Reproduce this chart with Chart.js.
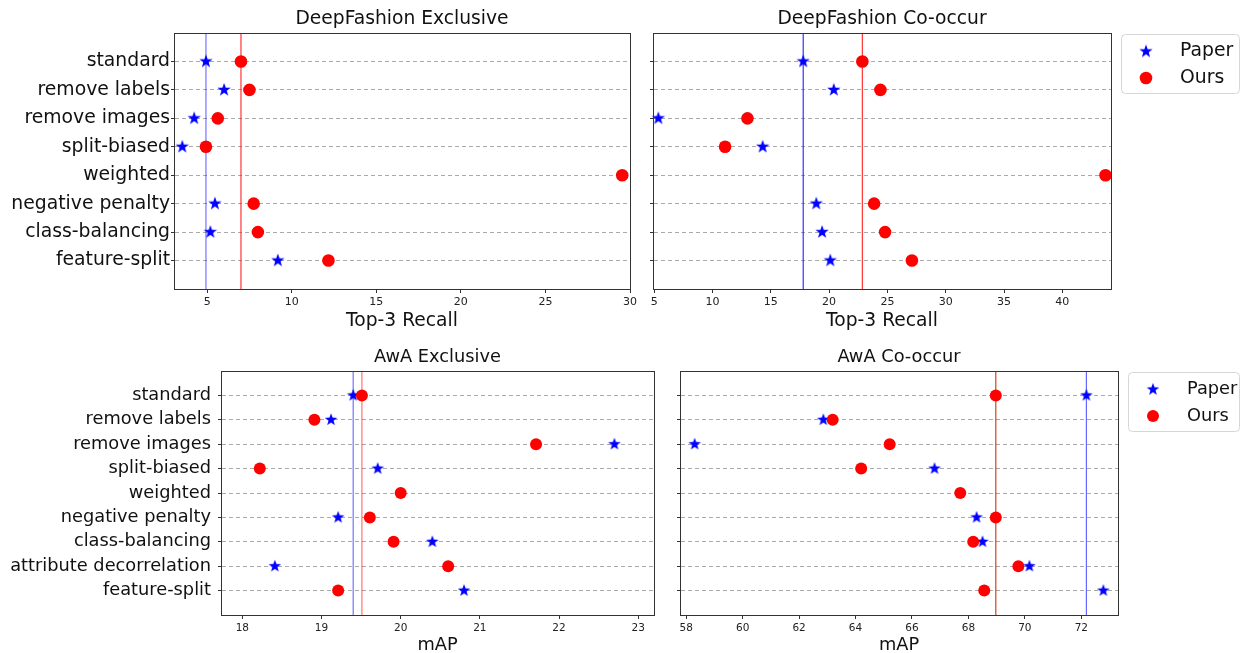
<!DOCTYPE html>
<html>
<head>
<meta charset="utf-8">
<script src="https://cdn.jsdelivr.net/npm/chart.js@4.4.0/dist/chart.umd.min.js"></script>
<style>
  body { margin: 0; background: #fff; width: 1240px; height: 653px; overflow: hidden; position: relative; }
  canvas { position: absolute; }
</style>
</head>
<body>
<canvas id="dfExcl" width="640" height="335" style="left:0px;top:0px"></canvas>
<canvas id="dfCo" width="600" height="335" style="left:640px;top:0px"></canvas>
<canvas id="awaExcl" width="660" height="320" style="left:0px;top:340px"></canvas>
<canvas id="awaCo" width="580" height="320" style="left:660px;top:340px"></canvas>
<script>
// categories
var dfCategories = ['standard', 'remove labels', 'remove images', 'split-biased', 'weighted',
                    'negative penalty', 'class-balancing', 'feature-split'];
var awaCategories = ['standard', 'remove labels', 'remove images', 'split-biased', 'weighted',
                     'negative penalty', 'class-balancing', 'attribute decorrelation', 'feature-split'];

// values (null = not reported)
var dfExclPaper = [4.93, 6.0, 4.23, 3.53, null, 5.46, 5.19, 9.18];
var dfExclOurs  = [7.0, 7.5, 5.63, 4.93, 29.54, 7.75, 8.0, 12.17];
var dfCoPaper   = [17.78, 20.4, 5.36, 14.3, null, 18.9, 19.4, 20.1];
var dfCoOurs    = [22.85, 24.4, 13.0, 11.08, 43.7, 23.86, 24.8, 27.1];

var awaExclPaper = [19.40, 19.12, 22.70, 19.71, null, 19.21, 20.40, 18.41, 20.80];
var awaExclOurs  = [19.51, 18.91, 21.71, 18.22, 20.0, 19.61, 19.91, 20.6, 19.21];
var awaCoPaper   = [72.18, 62.86, 58.30, 66.8, null, 68.29, 68.50, 70.16, 72.78];
var awaCoOurs    = [68.97, 63.19, 65.21, 64.2, 67.71, 68.97, 68.17, 69.77, 68.56];

var FONT = "'DejaVu Sans', sans-serif";
var TEXT = '#111';

function makeStar(color, r) {
  var c = document.createElement('canvas');
  var s = Math.ceil(r * 2) + 2;
  c.width = s; c.height = s;
  var g = c.getContext('2d');
  g.fillStyle = color;
  g.beginPath();
  for (var i = 0; i < 10; i++) {
    var rad = i % 2 === 0 ? r : r * 0.4;
    var a = -Math.PI / 2 + i * Math.PI / 5;
    g.lineTo(s / 2 + rad * Math.cos(a), s / 2 + rad * Math.sin(a));
  }
  g.closePath();
  g.fill();
  return c;
}

// frame, title and legend box
var panelDeco = {
  id: 'panelDeco',
  afterDraw: function(chart, args, opts) {
    var ctx = chart.ctx, a = chart.chartArea;
    ctx.save();
    ctx.strokeStyle = '#333';
    ctx.lineWidth = 1;
    ctx.strokeRect(Math.round(a.left) + 0.5, Math.round(a.top) + 0.5,
                   Math.round(a.right - a.left), Math.round(a.bottom - a.top));
    ctx.fillStyle = TEXT;
    ctx.font = opts.titleSize + 'px ' + FONT;
    ctx.textAlign = 'center';
    ctx.textBaseline = 'middle';
    ctx.fillText(opts.title, (a.left + a.right) / 2, a.top - 13.5);

    if (opts.legend) {
      var bx = a.right + 10, by = a.top + 1, bw = chart.width - bx - 1, bh = 59;
      ctx.beginPath();
      ctx.roundRect(bx + 0.5, by + 0.5, bw, bh, 4);
      ctx.fillStyle = '#fff';
      ctx.fill();
      ctx.strokeStyle = '#d6d6d6';
      ctx.stroke();
      var paper = chart.data.datasets[1], ours = chart.data.datasets[0];
      var img = paper.pointStyle;
      ctx.drawImage(img, bx + 25 - img.width / 2, by + 17.5 - img.height / 2);
      ctx.beginPath();
      ctx.arc(bx + 25, by + 44, opts.dot, 0, Math.PI * 2);
      ctx.fillStyle = ours.backgroundColor;
      ctx.fill();
      ctx.fillStyle = TEXT;
      ctx.font = opts.labelSize + 'px ' + FONT;
      ctx.textAlign = 'left';
      ctx.fillText(paper.label, bx + 59, by + 17.5);
      ctx.fillText(ours.label, bx + 59, by + 44);
    }
    ctx.restore();
  }
};

function pts(vals) {
  return vals.map(function(v, i) { return v === null ? null : {x: v, y: i}; })
             .filter(function(p) { return p; });
}

function buildPanel(id, cfg) {
  var n = cfg.categories.length;
  var star = makeStar('#0000ff', cfg.star);
  new Chart(document.getElementById(id), {
    type: 'scatter',
    data: {
      datasets: [
        { label: 'Ours', data: pts(cfg.ours), pointStyle: 'circle', pointRadius: cfg.dot,
          backgroundColor: '#ff0000', borderWidth: 0, order: 0, clip: false },
        { label: 'Paper', data: pts(cfg.paper), pointStyle: star, order: 1, clip: false },
        { data: [{x: cfg.ours[0], y: -1}, {x: cfg.ours[0], y: n}], showLine: true, pointRadius: 0,
          borderColor: cfg.redLine, borderWidth: 1.2, order: 2 },
        { data: [{x: cfg.paper[0], y: -1}, {x: cfg.paper[0], y: n}], showLine: true, pointRadius: 0,
          borderColor: cfg.blueLine, borderWidth: 1.2, order: 3 }
      ]
    },
    options: {
      responsive: false,
      animation: false,
      events: [],
      layout: { padding: { top: cfg.top, right: cfg.right, left: 0, bottom: 0 } },
      plugins: {
        legend: { display: false },
        tooltip: { enabled: false },
        panelDeco: { title: cfg.title, titleSize: cfg.titleSize, legend: cfg.legend,
                     labelSize: cfg.labelSize, dot: cfg.dot }
      },
      scales: {
        x: {
          type: 'linear', min: cfg.xmin, max: cfg.xmax,
          ticks: { stepSize: cfg.step, includeBounds: false, color: '#222', padding: 3,
                   font: { family: FONT, size: cfg.tickSize } },
          grid: { drawOnChartArea: false, tickLength: 4, color: '#333' },
          border: { color: '#333' },
          title: { display: true, text: cfg.xTitle, color: TEXT,
                   font: { family: FONT, size: cfg.titleSize }, padding: { top: 0, bottom: cfg.xTitlePad } },
          afterFit: function(s) { s.height = cfg.xh; }
        },
        y: {
          type: 'linear', reverse: true, min: -1, max: n,
          ticks: {
            stepSize: 1, autoSkip: false, color: TEXT, padding: cfg.labelPad,
            font: { family: FONT, size: cfg.labelSize },
            callback: function(v) {
              var i = Math.round(v);
              return cfg.showLabels && i >= 0 && i < n ? cfg.categories[i] : '';
            }
          },
          grid: {
            tickLength: 3,
            color: function(c) { var v = c.tick ? Math.round(c.tick.value) : -1; return v >= 0 && v < n ? '#aaaaaa' : 'rgba(0,0,0,0)'; },
            tickColor: function(c) { var v = c.tick ? Math.round(c.tick.value) : -1; return v >= 0 && v < n ? '#333' : 'rgba(0,0,0,0)'; },
            borderDash: [4, 3],
            tickBorderDash: []
          },
          border: { color: '#333', dash: [4, 3] },
          afterFit: function(s) { s.width = cfg.yw; }
        }
      }
    },
    plugins: [panelDeco]
  });
}

buildPanel('dfExcl', {
  categories: dfCategories, paper: dfExclPaper, ours: dfExclOurs,
  title: 'DeepFashion Exclusive', xTitle: 'Top-3 Recall',
  xmin: 3.04, xmax: 30.0, step: 5, showLabels: true, legend: false,
  top: 33, right: 10, yw: 174, xh: 46, xTitlePad: 3, labelPad: 1,
  labelSize: 18.8, titleSize: 18.7, tickSize: 11, star: 7, dot: 6.3,
  redLine: 'rgba(255,0,0,0.8)', blueLine: 'rgba(0,0,255,0.55)'
});
buildPanel('dfCo', {
  categories: dfCategories, paper: dfCoPaper, ours: dfCoOurs,
  title: 'DeepFashion Co-occur', xTitle: 'Top-3 Recall',
  xmin: 4.9, xmax: 44.17, step: 5, showLabels: false, legend: true,
  top: 33, right: 129, yw: 13, xh: 46, xTitlePad: 3, labelPad: 1,
  labelSize: 18.8, titleSize: 18.7, tickSize: 11, star: 7, dot: 6.3,
  redLine: 'rgba(255,0,0,0.8)', blueLine: 'rgba(0,0,255,0.8)'
});
buildPanel('awaExcl', {
  categories: awaCategories, paper: awaExclPaper, ours: awaExclOurs,
  title: 'AwA Exclusive', xTitle: 'mAP',
  xmin: 17.73, xmax: 23.2, step: 1, showLabels: true, legend: false,
  top: 31, right: 3, yw: 221, xh: 45, xTitlePad: 4, labelPad: 7,
  labelSize: 17.8, titleSize: 17.8, tickSize: 10.5, star: 6.6, dot: 6,
  redLine: 'rgba(255,0,0,0.55)', blueLine: 'rgba(0,0,255,0.55)'
});
buildPanel('awaCo', {
  categories: awaCategories, paper: awaCoPaper, ours: awaCoOurs,
  title: 'AwA Co-occur', xTitle: 'mAP',
  xmin: 57.78, xmax: 73.3, step: 2, showLabels: false, legend: true,
  top: 31, right: 122, yw: 20, xh: 45, xTitlePad: 4, labelPad: 1,
  labelSize: 17.8, titleSize: 17.8, tickSize: 10.5, star: 6.6, dot: 6,
  redLine: 'rgba(200,50,10,0.9)', blueLine: 'rgba(0,0,255,0.6)'
});
</script>
</body>
</html>
